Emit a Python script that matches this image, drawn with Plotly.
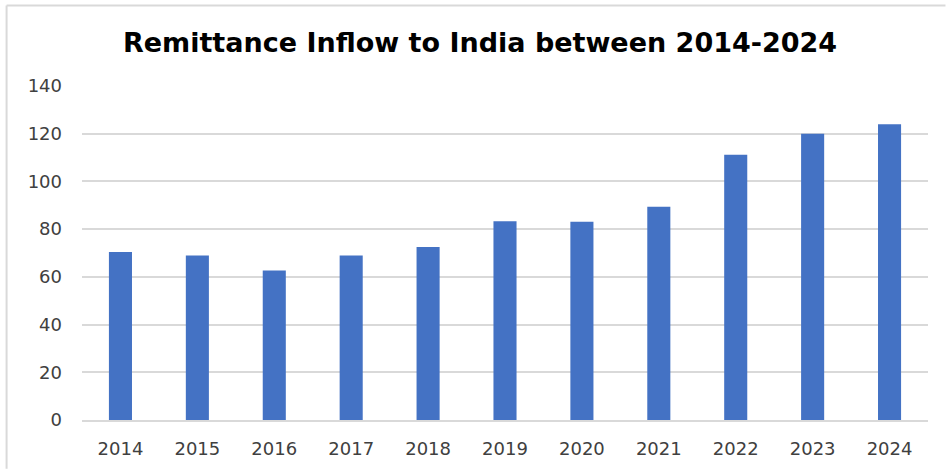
import plotly.graph_objects as go

years = ["2014", "2015", "2016", "2017", "2018", "2019", "2020", "2021", "2022", "2023", "2024"]
inflow = [70.4, 68.9, 62.7, 69.0, 72.5, 83.3, 83.1, 89.4, 111.2, 120.0, 124.0]
title_text = "Remittance Inflow to India between 2014-2024"

W, H = 946, 471
L, R, T, B = 81.5, 946 - 928.5, 86, 471 - 422
pw, ph = W - L - R, H - T - B

fig = go.Figure(go.Bar(x=years, y=inflow, marker=dict(color="#4472C4", line=dict(width=0)),
                       width=0.3, hoverinfo="x+y"))

def px_x(p):
    return (p - L) / pw

def px_y(p):
    return (H - B - p) / ph

fig.update_layout(
    width=W, height=H,
    margin=dict(l=L, r=R, t=T, b=B, pad=0),
    paper_bgcolor="white", plot_bgcolor="white",
    showlegend=False,
    title=dict(text="<b>" + title_text + "</b>", x=px_x(480), xanchor="center", xref="paper",
               y=1 - 42.5 / H, yanchor="middle",
               font=dict(family="DejaVu Sans", size=27, color="#000000")),
    xaxis=dict(showgrid=False, showline=True, linecolor="#d9d9d9", linewidth=1.5, ticks="",
               tickfont=dict(family="DejaVu Sans", size=18, color="#404040"),
               ticklabelstandoff=12),
    yaxis=dict(range=[0, 140], dtick=20, showgrid=True, gridcolor="#d9d9d9", gridwidth=1.5,
               zeroline=False, showline=False, ticks="",
               tickfont=dict(family="DejaVu Sans", size=18, color="#404040"),
               ticklabelstandoff=19),
    shapes=[
        dict(type="line", xref="paper", yref="paper", x0=px_x(6), x1=px_x(946), y0=px_y(5), y1=px_y(5),
             line=dict(color="#d9d9d9", width=2)),
        dict(type="line", xref="paper", yref="paper", x0=px_x(6), x1=px_x(6), y0=px_y(5), y1=px_y(471),
             line=dict(color="#d9d9d9", width=2)),
    ],
)

fig.write_html("out.html")
